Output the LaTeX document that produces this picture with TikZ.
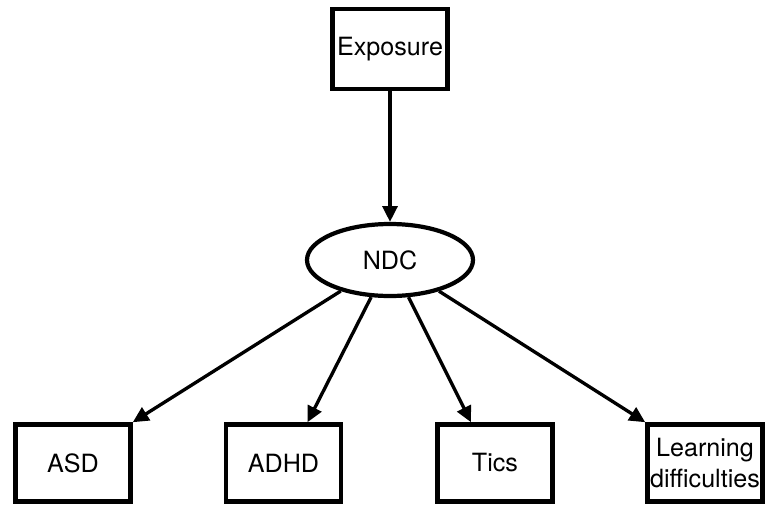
\documentclass[tikz,border=0pt]{standalone}
\usepackage{fontspec}
\setmainfont{TeX Gyre Heros}
\usetikzlibrary{shapes.geometric,arrows.meta}

\begin{document}
\begin{tikzpicture}[
  font=\fontsize{14.3pt}{17.2pt}\selectfont,
  box/.style={draw,line width=2.6pt,minimum width=2.3cm,minimum height=1.54cm,inner sep=0pt,align=center},
  latent/.style={draw,ellipse,line width=2.4pt,minimum width=3.32cm,minimum height=1.44cm,inner sep=0pt},
  arr/.style={line width=1.9pt,-{Triangle[length=9pt,width=8.5pt]}}
]

\useasboundingbox (0,0) rectangle (15.3,10.12);

% Exposure
\node[box,minimum width=2.3cm,minimum height=1.6cm] (expo) at (7.8,9.14) {Exposure};

% NDC
\node[latent] (ndc) at (7.8,4.92) {NDC};

% outcomes
\node[box] (asd) at (1.46,0.86) {ASD};
\node[box] (adhd) at (5.67,0.86) {ADHD};
\node[box] (tics) at (9.9,0.86) {Tics};
\node[box] (learn) at (14.1,0.86) {Learning\\difficulties};

\draw[arr] (expo) -- (ndc);
\draw[arr] (ndc) -- (asd.north east);
\draw[arr] (ndc) -- ([xshift=0.48cm]adhd.north);
\draw[arr] (ndc) -- ([xshift=-0.48cm]tics.north);
\draw[arr] (ndc) -- (learn.north west);

\end{tikzpicture}
\end{document}
